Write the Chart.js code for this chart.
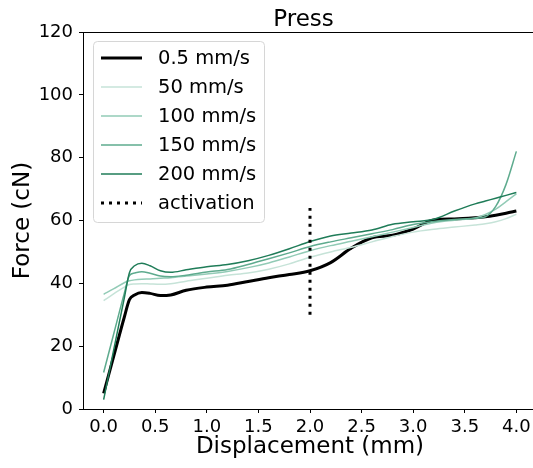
<!DOCTYPE html>
<html lang="en">
<head>
  <meta charset="UTF-8">
  <title>Press</title>
  <script src="https://cdn.jsdelivr.net/npm/chart.js"></script>
  <style>
    html, body {
      margin: 0;
      padding: 0;
      overflow: hidden;
      background: #fff;
    }
    .chart-container {
      position: relative;
      width: 537px;
      height: 468px;
    }
  </style>
</head>
<body>
  <div class="chart-container">
    <canvas id="pressChart"></canvas>
  </div>

  <script>
    // displacement (mm) sample positions
    const displacement = [0, 0.1, 0.2, 0.25, 0.3, 0.37, 0.45, 0.55, 0.65, 0.8, 1.0, 1.2, 1.4, 1.6,
      1.8, 2.0, 2.2, 2.4, 2.6, 2.8, 3.0, 3.2, 3.4, 3.6, 3.7, 3.8, 3.9, 4.0];

    // force (cN) per speed
    const force05 = [5, 17.1, 29.2, 34.8, 36.3, 37.1, 36.8, 36.1, 36.3, 37.8, 38.8, 39.4, 40.6, 41.8,
      42.8, 44.0, 46.6, 51.2, 54.5, 55.3, 57.3, 60.2, 60.5, 60.9, 61.2, 61.7, 62.3, 63.0];
    const force50 = [34.5, 36.7, 38.8, 39.6, 39.8, 39.9, 39.8, 39.7, 39.9, 40.7, 41.6, 42.6, 43.3, 44.5,
      46.2, 48.3, 50.0, 51.5, 53.2, 54.9, 56.3, 57.2, 57.9, 58.6, 59.0, 59.6, 60.6, 62.0];
    const force100 = [36.5, 38.3, 40.2, 40.8, 41.1, 41.3, 41.4, 41.6, 41.8, 42.3, 43.0, 43.8, 45.0, 46.5,
      48.4, 50.4, 52.0, 53.4, 54.8, 56.3, 57.8, 59.3, 60.1, 60.8, 61.9, 63.6, 66.0, 68.5];
    const force150 = [11.6, 24.2, 36.8, 42.5, 43.3, 43.7, 43.2, 42.3, 42.1, 42.6, 43.6, 44.4, 46.0, 47.8,
      49.7, 51.7, 53.2, 54.5, 55.8, 57.1, 58.7, 59.7, 60.3, 60.7, 61.2, 64.5, 71.5, 82.0];
    const force200 = [3, 19.2, 35.3, 43.4, 45.6, 46.4, 45.6, 44.0, 43.5, 44.3, 45.3, 46.0, 47.2, 48.9,
      51.0, 53.3, 55.1, 56.0, 57.0, 58.8, 59.6, 60.4, 63.0, 65.3, 66.2, 67.1, 68.0, 68.9];

    // activation marker
    const activationX = [2.0, 2.0];
    const activationY = [30, 64];

    const speedLabels = ['0.5 mm/s', '50 mm/s', '100 mm/s', '150 mm/s', '200 mm/s'];
    const xTicks = [0, 0.5, 1.0, 1.5, 2.0, 2.5, 3.0, 3.5, 4.0];
    const yTicks = [0, 20, 40, 60, 80, 100, 120];

    const toPoints = (xs, ys) => xs.map((x, i) => ({ x: x, y: ys[i] }));

    const seriesValues = [force05, force50, force100, force150, force200];
    const seriesColors = ['#000000', '#c6e3d8', '#92cbb6', '#5eab8e', '#1f7c58'];
    const seriesWidths = [3, 1.5, 1.5, 1.5, 1.5];

    const datasets = seriesValues.map((vals, i) => ({
      label: speedLabels[i],
      data: toPoints(displacement, vals),
      borderColor: seriesColors[i],
      borderWidth: seriesWidths[i],
      pointRadius: 0,
      cubicInterpolationMode: 'monotone',
      fill: false,
      order: i === 0 ? 10 : 5 - i
    }));

    datasets.push({
      label: 'activation',
      data: toPoints(activationX, activationY),
      borderColor: '#000000',
      borderWidth: 3,
      borderDash: [3, 5],
      pointRadius: 0,
      fill: false,
      order: 0
    });

    const FONT = "'DejaVu Sans', sans-serif";

    // box frame top edge, title and the in-axes legend
    const decorations = {
      id: 'decorations',
      afterDraw(chart) {
        const { ctx, chartArea } = chart;
        ctx.save();
        ctx.strokeStyle = '#000';
        ctx.lineWidth = 1;
        ctx.beginPath();
        ctx.moveTo(chartArea.left, chartArea.top + 0.5);
        ctx.lineTo(chartArea.right, chartArea.top + 0.5);
        ctx.stroke();

        ctx.fillStyle = '#000';
        ctx.font = '23px ' + FONT;
        ctx.textAlign = 'center';
        ctx.textBaseline = 'alphabetic';
        ctx.fillText('Press', 303.5, 26);

        // legend
        const bx = 93.5, by = 41.5, bw = 171, bh = 181, r = 4;
        ctx.beginPath();
        ctx.moveTo(bx + r, by);
        ctx.arcTo(bx + bw, by, bx + bw, by + bh, r);
        ctx.arcTo(bx + bw, by + bh, bx, by + bh, r);
        ctx.arcTo(bx, by + bh, bx, by, r);
        ctx.arcTo(bx, by, bx + bw, by, r);
        ctx.closePath();
        ctx.fillStyle = 'rgba(255,255,255,0.8)';
        ctx.fill();
        ctx.strokeStyle = '#d6d6d6';
        ctx.lineWidth = 1;
        ctx.stroke();

        ctx.font = '19.5px ' + FONT;
        ctx.textAlign = 'left';
        ctx.textBaseline = 'middle';
        chart.data.datasets.forEach((ds, i) => {
          const y = 58 + i * 29;
          ctx.beginPath();
          ctx.strokeStyle = ds.borderColor;
          ctx.lineWidth = ds.borderWidth;
          ctx.setLineDash(ds.borderDash || []);
          ctx.moveTo(101, y);
          ctx.lineTo(142, y);
          ctx.stroke();
          ctx.setLineDash([]);
          ctx.fillStyle = '#000';
          ctx.fillText(ds.label, 158, y + 1);
        });
        ctx.restore();
      }
    };

    const ctx = document.getElementById('pressChart').getContext('2d');
    const pressChart = new Chart(ctx, {
      type: 'line',
      data: { datasets: datasets },
      plugins: [decorations],
      options: {
        responsive: true,
        maintainAspectRatio: false,
        animation: false,
        layout: { padding: { top: 32, right: 0, bottom: 0, left: 0 } },
        scales: {
          x: {
            type: 'linear',
            min: -0.2,
            max: 4.2,
            afterBuildTicks: (scale) => { scale.ticks = xTicks.map(v => ({ value: v })); },
            afterFit: (scale) => { scale.height = 59; },
            ticks: {
              color: '#000',
              font: { family: FONT, size: 18 },
              padding: 4,
              maxRotation: 0,
              callback: (v) => Number(v).toFixed(1)
            },
            grid: { drawOnChartArea: false, tickLength: 4, color: '#000' },
            border: { display: true, color: '#000', width: 1 },
            title: {
              display: true,
              text: 'Displacement (mm)',
              color: '#000',
              font: { family: FONT, size: 23 },
              padding: { top: 0, bottom: 7 }
            }
          },
          y: {
            min: 0,
            max: 120,
            afterBuildTicks: (scale) => { scale.ticks = yTicks.map(v => ({ value: v })); },
            afterFit: (scale) => { scale.width = 83; },
            ticks: {
              color: '#000',
              font: { family: FONT, size: 18 },
              padding: 6
            },
            grid: { drawOnChartArea: false, tickLength: 4, color: '#000' },
            border: { display: true, color: '#000', width: 1 },
            title: {
              display: true,
              text: 'Force (cN)',
              color: '#000',
              font: { family: FONT, size: 23 },
              padding: { top: 9, bottom: 0 }
            }
          }
        },
        plugins: {
          legend: { display: false },
          title: { display: false },
          tooltip: { enabled: false }
        }
      }
    });
  </script>
</body>
</html>
